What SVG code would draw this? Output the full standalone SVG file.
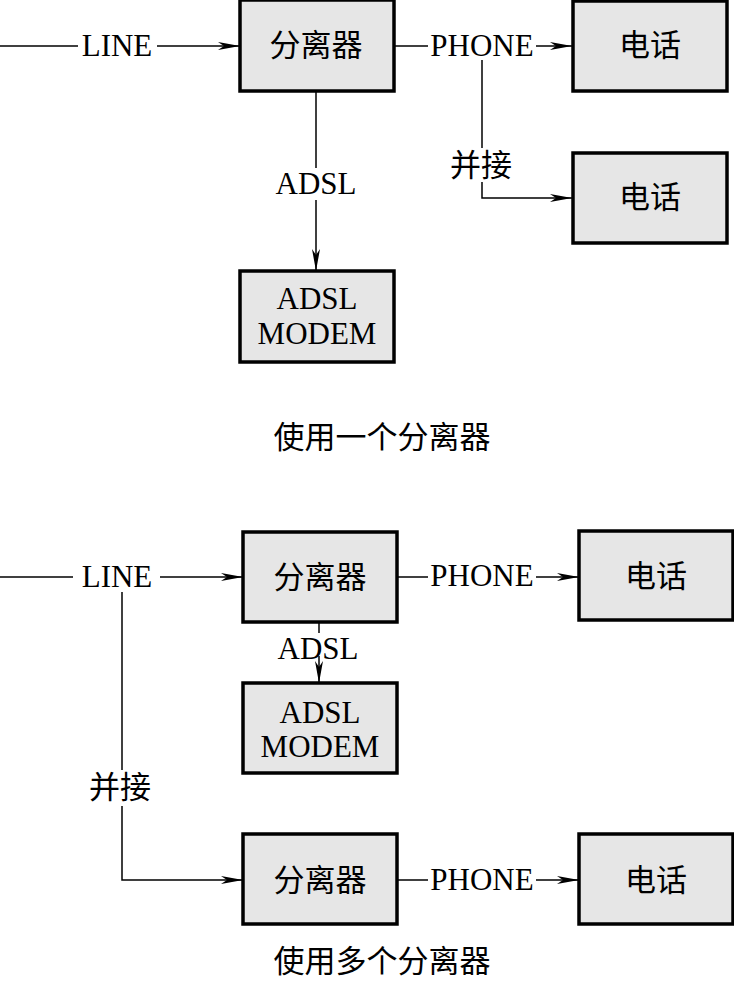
<svg xmlns="http://www.w3.org/2000/svg" width="734" height="981" viewBox="0 0 734 981">
<defs>
<marker id="arr" markerUnits="userSpaceOnUse" markerWidth="24" markerHeight="10" viewBox="0 -5 24 10" refX="22" refY="0" orient="auto">
<path d="M0,-4 L22,0 L0,4 L6,0 z" fill="#000"/>
</marker>
<style>
.box{fill:#e6e6e6;stroke:#000;stroke-width:3.5}
.ln{fill:none;stroke:#000;stroke-width:1.5}
.lat{font-family:"Liberation Serif","Times New Roman",serif;font-size:31px;fill:#000;text-anchor:middle}
.cjk{font-family:"Liberation Serif","Noto Sans CJK SC",sans-serif;font-size:31px;fill:#000;text-anchor:middle}
</style>
</defs>
<g id="connectors">
<path class="ln" d="M0,46 H78"/>
<path class="ln" d="M157,46 H240" marker-end="url(#arr)"/>
<path class="ln" d="M394,46 H428"/>
<path class="ln" d="M536,46 H572" marker-end="url(#arr)"/>
<path class="ln" d="M482,60 V148"/>
<path class="ln" d="M482,182 V198 H572" marker-end="url(#arr)"/>
<path class="ln" d="M316,91 V168"/>
<path class="ln" d="M316,200 V271" marker-end="url(#arr)"/>
<path class="ln" d="M0,577 H73"/>
<path class="ln" d="M160,577 H243" marker-end="url(#arr)"/>
<path class="ln" d="M397,577 H428"/>
<path class="ln" d="M536,577 H579" marker-end="url(#arr)"/>
<path class="ln" d="M319,622 V633"/>
<path class="ln" d="M319,656 V683" marker-end="url(#arr)"/>
<path class="ln" d="M122,592 V770"/>
<path class="ln" d="M122,806 V880 H243" marker-end="url(#arr)"/>
<path class="ln" d="M397,880 H428"/>
<path class="ln" d="M536,880 H579" marker-end="url(#arr)"/>
</g>
<g id="labels">
<text class="lat" x="117" y="56">LINE</text>
<text class="lat" x="482" y="56">PHONE</text>
<text class="cjk" x="481" y="176">并接</text>
<text class="lat" x="316" y="194">ADSL</text>
<text class="lat" x="117" y="587">LINE</text>
<text class="lat" x="482" y="586">PHONE</text>
<text class="lat" x="318" y="659">ADSL</text>
<text class="cjk" x="120" y="798">并接</text>
<text class="lat" x="482" y="890">PHONE</text>
</g>
<g id="splitter1"><rect class="box" x="240" y="0" width="154" height="91"/><text class="cjk" x="316" y="56">分离器</text></g>
<g id="phone1"><rect class="box" x="573" y="1" width="154" height="90"/><text class="cjk" x="650" y="56">电话</text></g>
<g id="phone2"><rect class="box" x="573" y="153" width="154" height="90"/><text class="cjk" x="650" y="208">电话</text></g>
<g id="modem1"><rect class="box" x="240" y="271" width="154" height="91"/><text class="lat" x="317" y="309">ADSL</text><text class="lat" x="317" y="344">MODEM</text></g>
<g id="caption1"><text class="cjk" x="382" y="448">使用一个分离器</text></g>
<g id="splitter2"><rect class="box" x="243" y="532" width="154" height="90"/><text class="cjk" x="320" y="588">分离器</text></g>
<g id="phone3"><rect class="box" x="579" y="531" width="154" height="89"/><text class="cjk" x="656" y="587">电话</text></g>
<g id="modem2"><rect class="box" x="243" y="683" width="154" height="90"/><text class="lat" x="320" y="723">ADSL</text><text class="lat" x="320" y="757">MODEM</text></g>
<g id="splitter3"><rect class="box" x="243" y="834" width="154" height="90"/><text class="cjk" x="320" y="891">分离器</text></g>
<g id="phone4"><rect class="box" x="579" y="834" width="154" height="90"/><text class="cjk" x="656" y="891">电话</text></g>
<g id="caption2"><text class="cjk" x="382" y="972">使用多个分离器</text></g>
</svg>
